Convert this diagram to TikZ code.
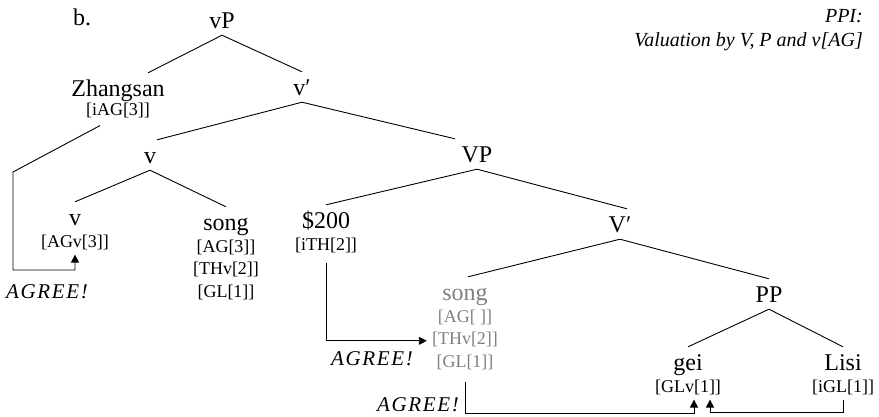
\documentclass[tikz,border=0pt]{standalone}
\usepackage{fontspec}
\setmainfont{Liberation Serif}
\newfontfamily\agreefam[LetterSpace=8]{Liberation Serif}
\usetikzlibrary{positioning,arrows.meta}

\newcommand\catfont{\fontsize{24}{27}\selectfont}
\newcommand\featfont{\fontsize{18}{21}\selectfont}
\newcommand\hdfont{\itshape\fontsize{20}{24}\selectfont}
\newcommand\agreefont{\agreefam\itshape\fontsize{21}{24}\selectfont}

\tikzset{
  cat/.style={font=\catfont, inner sep=0pt, text height=23pt, text depth=7pt, anchor=base},
  feat/.style={font=\featfont, inner sep=0pt, text height=15pt, text depth=7pt},
  trace/.style={text=black!50},
  branch/.style={line width=0.9pt},
  agree/.style={line width=0.9pt, -{Triangle[length=8pt,width=8pt]}},
  agreelab/.style={font=\agreefont, anchor=base},
  hd/.style={font=\hdfont, inner sep=0pt, anchor=base east},
}

\begin{document}
\begin{tikzpicture}[x=1pt, y=1pt, node distance=0pt]
    \useasboundingbox (0,0) rectangle (879,-416);

    % heading
    \node[cat] (ex) at (82,-25) {b.};
    \node[hd] (hd1) at (863,-22) {PPI:};
    \node[hd] (hd2) at (863,-46) {Valuation by V, P and v[AG]};

    % tree
    \node[cat] (vP) at (222,-28) {vP};
    \node[cat] (zh) at (118,-96) {Zhangsan};
        \node[feat, below=-3pt of zh] (zhF) {[iAG[3]]};
    \node[cat] (vbar) at (302,-95) {v′};
    \node[cat] (v) at (150,-163) {v};
    \node[cat] (VP) at (477,-162) {VP};
    \node[cat] (vhd) at (75,-225) {v};
        \node[feat, below=of vhd] (vhdF) {[AGv[3]]};
    \node[cat] (song) at (226,-230) {song};
        \node[feat, below=of song] (songAg) {[AG[3]]};
        \node[feat, below=of songAg] (songTh) {[THv[2]]};
        \node[feat, below=of songTh] (songGl) {[GL[1]]};
    \node[cat] (usd) at (326,-228) {\$200};
        \node[feat, below=of usd] (usdF) {[iTH[2]]};
    \node[cat] (Vbar) at (620,-232) {V′};
    \node[cat, trace] (songT) at (465,-300) {song};
        \node[feat, trace, below=of songT] (songTAg) {[AG[~]]};
        \node[feat, trace, below=of songTAg] (songTTh) {[THv[2]]};
        \node[feat, trace, below=of songTTh] (songTGl) {[GL[1]]};
    \node[cat] (PP) at (769,-302) {PP};
    \node[cat] (gei) at (688,-370) {gei};
        \node[feat, below=of gei] (geiF) {[GLv[1]]};
    \node[cat] (lisi) at (843,-370) {Lisi};
        \node[feat, below=of lisi] (lisiF) {[iGL[1]]};

    \draw[branch] (vP.south) -- ([xshift=30pt]zh.north);
    \draw[branch] (vP.south) -- (vbar.north);
    \draw[branch] (vbar.south) -- ([xshift=7pt]v.north);
    \draw[branch] (vbar.south) -- ([xshift=-22pt]VP.north);
    \draw[branch] (v.south) -- (vhd.north);
    \draw[branch] (v.south) -- (song.north);
    \draw[branch] (VP.south) -- (usd.north);
    \draw[branch] (VP.south) -- ([xshift=7pt]Vbar.north);
    \draw[branch] (Vbar.south) -- ([xshift=3pt]songT.north);
    \draw[branch] (Vbar.south) -- (PP.north);
    \draw[branch] (PP.south) -- (gei.north);
    \draw[branch] (PP.south) -- (lisi.north);

    % agree arrows
    \draw[agree] ([xshift=-18pt,yshift=-3pt]zhF.south) -- (13,-172) -- (13,-270) -| (vhdF.south);
    \node[agreelab] (ag1) at (47,-298) {AGREE!};
    \draw[agree] ([yshift=-5pt]usdF.south) |- ([xshift=-5pt]songTTh.west);
    \node[agreelab] (ag2) at (372,-365) {AGREE!};
    \draw[agree] ([yshift=-8pt]songTGl.south) -- ++(0,-31) -| ([xshift=6pt]geiF.south);
    \draw[agree] (lisiF.south) -- ++(0,-13) -| ([xshift=22pt]geiF.south);
    \node[agreelab] (ag3) at (418,-411) {AGREE!};
\end{tikzpicture}
\end{document}
